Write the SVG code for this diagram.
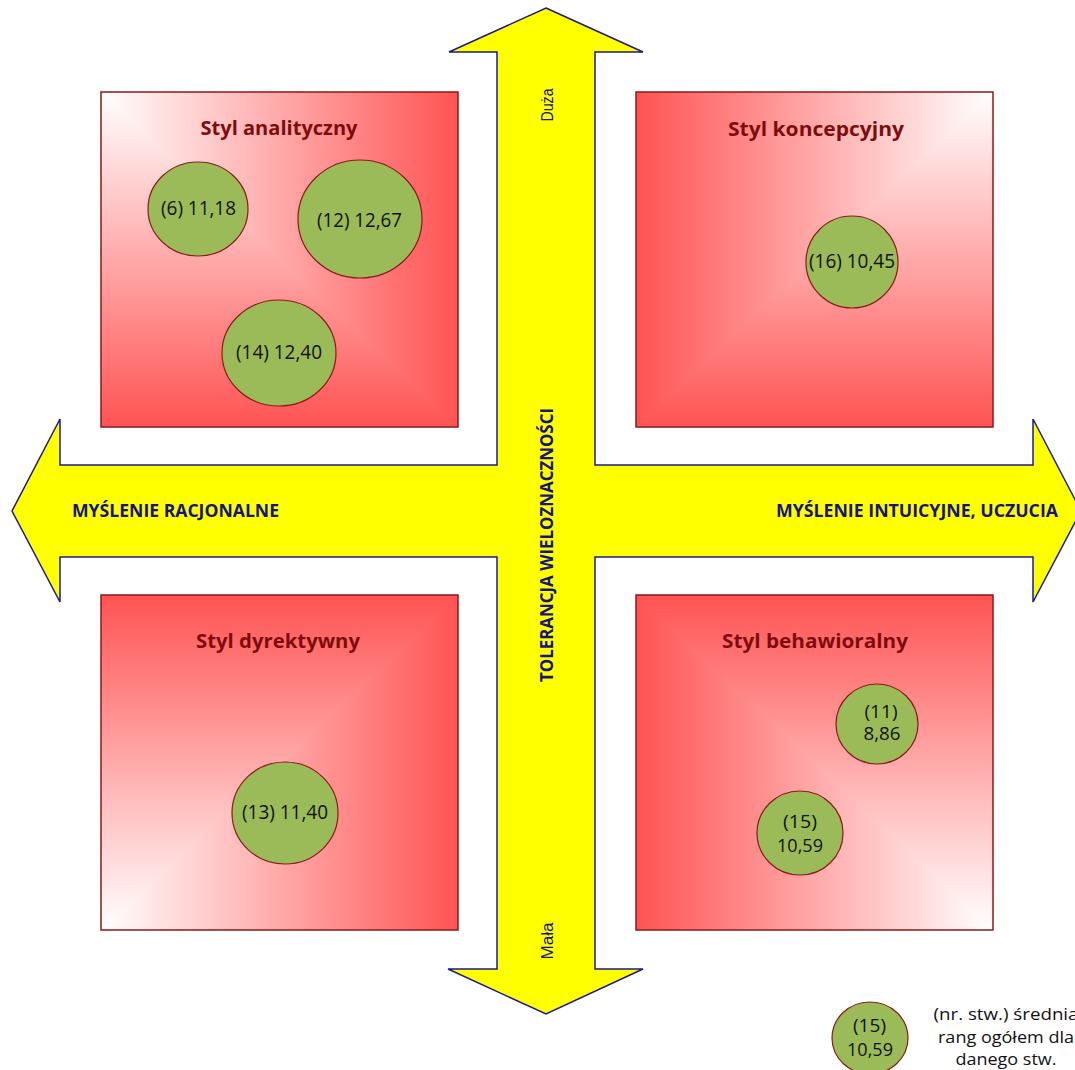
<svg xmlns="http://www.w3.org/2000/svg" width="1075" height="1070" viewBox="0 0 1075 1070">
<defs>
<linearGradient id="hTL" gradientUnits="userSpaceOnUse" x1="101" y1="0" x2="458" y2="0"><stop offset="0" stop-color="#ffffff"/><stop offset="1" stop-color="#ff5353"/></linearGradient>
<linearGradient id="vTL" gradientUnits="userSpaceOnUse" x1="0" y1="92" x2="0" y2="427"><stop offset="0" stop-color="#ffffff"/><stop offset="1" stop-color="#ff5353"/></linearGradient>
<linearGradient id="hTR" gradientUnits="userSpaceOnUse" x1="993" y1="0" x2="636" y2="0"><stop offset="0" stop-color="#ffffff"/><stop offset="1" stop-color="#ff5353"/></linearGradient>
<linearGradient id="vTR" gradientUnits="userSpaceOnUse" x1="0" y1="92" x2="0" y2="427"><stop offset="0" stop-color="#ffffff"/><stop offset="1" stop-color="#ff5353"/></linearGradient>
<linearGradient id="hBL" gradientUnits="userSpaceOnUse" x1="101" y1="0" x2="458" y2="0"><stop offset="0" stop-color="#ffffff"/><stop offset="1" stop-color="#ff5353"/></linearGradient>
<linearGradient id="vBL" gradientUnits="userSpaceOnUse" x1="0" y1="930" x2="0" y2="595"><stop offset="0" stop-color="#ffffff"/><stop offset="1" stop-color="#ff5353"/></linearGradient>
<linearGradient id="hBR" gradientUnits="userSpaceOnUse" x1="993" y1="0" x2="636" y2="0"><stop offset="0" stop-color="#ffffff"/><stop offset="1" stop-color="#ff5353"/></linearGradient>
<linearGradient id="vBR" gradientUnits="userSpaceOnUse" x1="0" y1="930" x2="0" y2="595"><stop offset="0" stop-color="#ffffff"/><stop offset="1" stop-color="#ff5353"/></linearGradient>
</defs>
<style>
.sq{fill:none;stroke:#8b1a1a;stroke-width:1.5}
.title{font-family:"Open Sans","Liberation Sans",sans-serif;font-weight:bold;font-size:20px;fill:#7f0c0c;text-anchor:middle}
.c{fill:#9bbb59;stroke:#8b1a1a;stroke-width:1.2}
.ct{font-family:"Open Sans","Liberation Sans",sans-serif;font-size:20px;fill:#111;text-anchor:middle}
.c2{font-family:"Open Sans","Liberation Sans",sans-serif;font-size:18px;fill:#111;text-anchor:middle}
.ax{fill:#ffff00;stroke:#1a1a8c;stroke-width:1.5;stroke-linejoin:miter}
.lab{font-family:"Open Sans","Liberation Sans",sans-serif;font-weight:bold;font-size:17px;fill:#141482;text-anchor:middle}
.sm{font-family:"Liberation Sans",sans-serif;font-size:16px;fill:#141482;text-anchor:middle}
.lg{font-family:"Open Sans","Liberation Sans",sans-serif;font-size:17px;fill:#111;text-anchor:middle}
</style>
<g id="squares">
<g id="sq-analityczny"><rect x="101" y="92" width="357" height="335" fill="url(#hTL)"/><polygon points="101,92 101,427 458,427" fill="url(#vTL)"/><rect class="sq" x="101" y="92" width="357" height="335"/><text class="title" x="279" y="135" textLength="157" lengthAdjust="spacingAndGlyphs">Styl analityczny</text></g>
<g id="sq-koncepcyjny"><rect x="636" y="92" width="357" height="335" fill="url(#hTR)"/><polygon points="993,92 993,427 636,427" fill="url(#vTR)"/><rect class="sq" x="636" y="92" width="357" height="335"/><text class="title" x="816" y="136" textLength="176" lengthAdjust="spacingAndGlyphs">Styl koncepcyjny</text></g>
<g id="sq-dyrektywny"><rect x="101" y="595" width="357" height="335" fill="url(#hBL)"/><polygon points="101,930 101,595 458,595" fill="url(#vBL)"/><rect class="sq" x="101" y="595" width="357" height="335"/><text class="title" x="278" y="648" textLength="164" lengthAdjust="spacingAndGlyphs">Styl dyrektywny</text></g>
<g id="sq-behawioralny"><rect x="636" y="595" width="357" height="335" fill="url(#hBR)"/><polygon points="993,930 993,595 636,595" fill="url(#vBR)"/><rect class="sq" x="636" y="595" width="357" height="335"/><text class="title" x="815" y="648" textLength="186" lengthAdjust="spacingAndGlyphs">Styl behawioralny</text></g>
</g>
<g id="connectors">
<path class="ax" d="M546,8 L643,52 L595,52 L595,465 L1033,465 L1033,419 L1081,511 L1033,602 L1033,557 L595,557 L595,969 L643,969 L546,1014 L448,969 L497,969 L497,557 L60,557 L60,602 L12,511 L60,419 L60,465 L497,465 L497,52 L449,52 Z"/>
<text class="lab" x="175.5" y="517" textLength="207" lengthAdjust="spacingAndGlyphs">MYŚLENIE RACJONALNE</text>
<text class="lab" x="917" y="517" textLength="282" lengthAdjust="spacingAndGlyphs">MYŚLENIE INTUICYJNE, UCZUCIA</text>
<text class="lab" transform="translate(553,545) rotate(-90)" textLength="274" lengthAdjust="spacingAndGlyphs">TOLERANCJA  WIELOZNACZNOŚCI</text>
<text class="sm" transform="translate(553,105) rotate(-90)" textLength="33" lengthAdjust="spacingAndGlyphs">Duża</text>
<text class="sm" transform="translate(553,941) rotate(-90)" textLength="37" lengthAdjust="spacingAndGlyphs">Mała</text>
</g>
<g id="n6"><ellipse class="c" cx="198" cy="209" rx="50" ry="47"/><text class="ct" x="198.5" y="215" textLength="75" lengthAdjust="spacingAndGlyphs">(6) 11,18</text></g>
<g id="n12"><ellipse class="c" cx="360" cy="219" rx="62" ry="59"/><text class="ct" x="359.5" y="227" textLength="85" lengthAdjust="spacingAndGlyphs">(12) 12,67</text></g>
<g id="n14"><ellipse class="c" cx="279" cy="353" rx="57" ry="53"/><text class="ct" x="279" y="359" textLength="86" lengthAdjust="spacingAndGlyphs">(14) 12,40</text></g>
<g id="n16"><ellipse class="c" cx="852" cy="262" rx="46" ry="46"/><text class="ct" x="852" y="268" textLength="86" lengthAdjust="spacingAndGlyphs">(16) 10,45</text></g>
<g id="n13"><ellipse class="c" cx="285" cy="813" rx="53" ry="51"/><text class="ct" x="285" y="819" textLength="86" lengthAdjust="spacingAndGlyphs">(13) 11,40</text></g>
<g id="n11"><ellipse class="c" cx="877" cy="724" rx="41" ry="40"/><text class="c2" x="881" y="718" textLength="33" lengthAdjust="spacingAndGlyphs">(11)</text><text class="c2" x="882" y="740" textLength="37" lengthAdjust="spacingAndGlyphs">8,86</text></g>
<g id="n15"><ellipse class="c" cx="800" cy="833" rx="43" ry="42"/><text class="c2" x="800" y="828" textLength="34" lengthAdjust="spacingAndGlyphs">(15)</text><text class="c2" x="800" y="852" textLength="46" lengthAdjust="spacingAndGlyphs">10,59</text></g>
<g id="legend"><ellipse class="c" cx="870" cy="1038" rx="38" ry="36"/><text class="c2" x="869.5" y="1032" textLength="33" lengthAdjust="spacingAndGlyphs">(15)</text><text class="c2" x="870" y="1056" textLength="46" lengthAdjust="spacingAndGlyphs">10,59</text>
<text class="lg" x="1006" y="1020" textLength="145" lengthAdjust="spacingAndGlyphs">(nr. stw.) średnia</text><text class="lg" x="1006" y="1043" textLength="136" lengthAdjust="spacingAndGlyphs">rang ogółem dla</text><text class="lg" x="1006" y="1065" textLength="101" lengthAdjust="spacingAndGlyphs">danego stw.</text></g>
</svg>
